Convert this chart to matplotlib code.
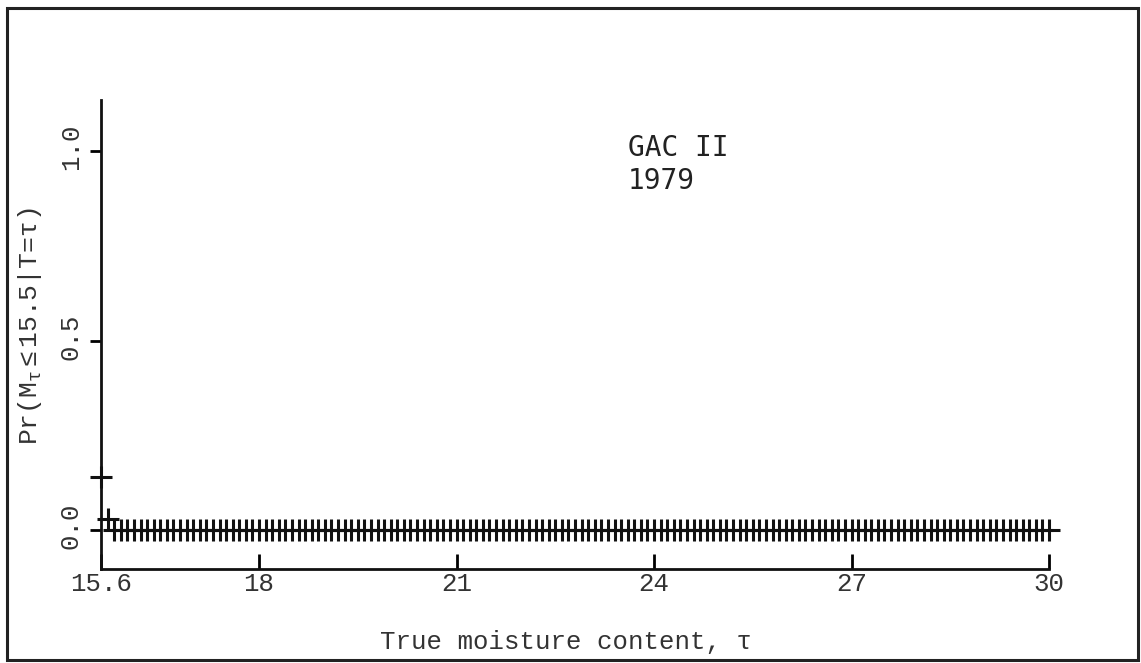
import numpy as np
import matplotlib.pyplot as plt
import matplotlib.transforms as mtransforms
from matplotlib.patches import Rectangle

# data
tau = np.round(np.arange(15.6, 30.05, 0.1), 1)   # sampling grid of true moisture
prob = [0.14, 0.03] + [0.0] * (len(tau) - 2)      # Pr(M_tau <= 15.5 | T = tau)

x_ticks = [15.6, 18, 21, 24, 27, 30]
x_ticklabels = ["15.6", "18", "21", "24", "27", "30"]
y_ticks = [0.0, 0.5, 1.0]
y_ticklabels = ["0.0", "0.5", "1.0"]

W, H = 1141, 663
plt.rcParams['mathtext.fontset'] = 'custom'
plt.rcParams['mathtext.rm'] = 'Liberation Mono'
plt.rcParams['mathtext.it'] = 'Liberation Mono'

fig = plt.figure(figsize=(W / 100, H / 100), dpi=100)
fig.patch.set_facecolor('white')

# outer frame
fig.patches.append(Rectangle((7 / W, 3 / H), (1138 - 7) / W, (655 - 3) / H,
                             transform=fig.transFigure, fill=False,
                             edgecolor='#222222', linewidth=2.2))

ax = fig.add_axes([101 / W, (H - 569) / H, (1049 - 101) / W, (569 - 100) / H])
ax.plot(tau, prob, linestyle='none', marker='+', markersize=16,
        markeredgewidth=2.2, color='#111111', clip_on=False, zorder=3)

ax.set_xlim(15.6, 30)
ax.set_ylim(-0.103, 1.135)

for s in ['top', 'right']:
    ax.spines[s].set_visible(False)
for s in ['left', 'bottom']:
    ax.spines[s].set_linewidth(2)
    ax.spines[s].set_color('#111111')

ax.set_xticks(x_ticks)
ax.set_xticklabels(x_ticklabels, fontfamily='Liberation Mono', fontsize=18.5,
                   color='#333333')
ax.set_yticks(y_ticks)
ax.set_yticklabels(y_ticklabels, fontfamily='Liberation Mono', fontsize=18.5,
                   color='#333333', rotation=90, va='center')
ax.tick_params(axis='x', direction='in', length=11, width=2, pad=2)
ax.tick_params(axis='y', direction='out', length=8, width=2, pad=5)

shift = mtransforms.ScaledTranslation(0, 4 / 100, fig.dpi_scale_trans)
for lab in ax.get_yticklabels():
    lab.set_transform(lab.get_transform() + shift)

fig.text(566 / W, 1 - 642 / H, "True moisture content, \u03c4",
         fontfamily='Liberation Mono', fontsize=18.5, color='#333333',
         ha='center', va='center')
fig.text(30 / W, 1 - 326 / H, "Pr(M$_{\\tau}$$\\leq$15.5|T=\u03c4)",
         fontfamily='Liberation Mono', fontsize=19, color='#333333',
         rotation=90, ha='center', va='center')

fig.text(628 / W, 1 - 148 / H, "GAC II", fontfamily='DejaVu Sans Mono',
         fontsize=20, color='#222222', ha='left', va='center')
fig.text(628 / W, 1 - 181 / H, "1979", fontfamily='DejaVu Sans Mono',
         fontsize=20, color='#222222', ha='left', va='center')

fig.savefig('out.png', dpi=100, facecolor='white')
